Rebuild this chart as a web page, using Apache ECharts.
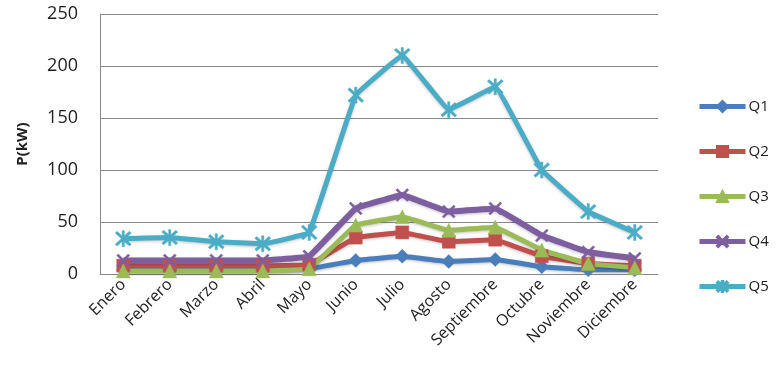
<!DOCTYPE html>
<html>
<head>
<meta charset="utf-8">
<script src="https://cdn.jsdelivr.net/npm/echarts@6/dist/echarts.min.js"></script>
<style>
  html, body { margin: 0; padding: 0; background: #fff; }
  #chart { width: 777px; height: 379px; }
</style>
</head>
<body>
<div id="chart"></div>
<script>
// Monthly power demand per quality tier
const months = ['Enero', 'Febrero', 'Marzo', 'Abril', 'Mayo', 'Junio', 'Julio',
  'Agosto', 'Septiembre', 'Octubre', 'Noviembre', 'Diciembre'];
const q1 = [4, 4, 4, 4, 5, 13, 17, 12, 14, 7, 4, 4];
const q2 = [8, 8, 8, 8, 9, 35, 40, 31, 33, 17, 10, 8];
const q3 = [3, 3, 3, 3, 5, 47, 55, 42, 45, 23, 10, 6];
const q4 = [13, 13, 13, 13, 17, 63, 76, 60, 63, 37, 21, 15];
const q5 = [34, 35, 31, 29, 40, 172, 210, 158, 180, 100, 60, 40];
const yTicks = [0, 50, 100, 150, 200, 250];

const FONT = 'Open Sans';
const crossPath = 'path://M0,1.2L1.2,0L5,3.8L8.8,0L10,1.2L6.2,5L10,8.8L8.8,10L5,6.2L1.2,10L0,8.8L3.8,5Z';
const starPath = 'path://M0,1.2L1.2,0L5,3.8L8.8,0L10,1.2L6.2,5L10,8.8L8.8,10L5,6.2L1.2,10L0,8.8L3.8,5Z' +
  'M4.3,-0.5L5.7,-0.5L5.7,10.5L4.3,10.5Z';

function line(name, data, color, symbol, size, width) {
  return {
    name, type: 'line', data, smooth: 0.05,
    symbol, symbolSize: size,
    lineStyle: { color, width: width || 5, shadowColor: 'rgba(0,0,0,0.25)', shadowBlur: 3, shadowOffsetY: 1 },
    itemStyle: { color, borderColor: color, borderWidth: 0.5 },
    emphasis: { disabled: true }
  };
}

const chart = echarts.init(document.getElementById('chart'));
chart.setOption({
  animation: false,
  grid: { left: 100, right: 119, top: 14, bottom: 105 },
  xAxis: {
    type: 'category', data: months, boundaryGap: true,
    axisLine: { lineStyle: { color: '#888', width: 1 } },
    axisTick: { show: false },
    axisLabel: { rotate: 45, color: '#222', fontFamily: FONT, fontSize: 16, margin: 8, interval: 0 }
  },
  yAxis: {
    type: 'value', min: 0, max: 250, interval: 50,
    name: 'P(kW)', nameLocation: 'middle', nameGap: 70, nameRotate: 90,
    nameTextStyle: { fontFamily: FONT, fontSize: 15, fontWeight: 'bold', color: '#222' },
    axisLine: { show: true, lineStyle: { color: '#888', width: 1 } },
    axisTick: { show: false },
    splitLine: { lineStyle: { color: '#888', width: 1 } },
    axisLabel: {
      color: '#222', fontFamily: FONT, fontSize: 18, margin: 22,
      formatter: v => yTicks.includes(v) ? String(v) : ''
    }
  },
  legend: {
    orient: 'vertical', left: 692, top: 94, itemGap: 30,
    itemWidth: 46, itemHeight: 14,
    lineStyle: { width: 5 },
    textStyle: { fontFamily: FONT, fontSize: 15, color: '#222', padding: [0, 0, 0, -2] },
    data: ['Q1', 'Q2', 'Q3', 'Q4', 'Q5']
  },
  series: [
    line('Q1', q1, '#4A7EBB', 'diamond', 14),
    line('Q2', q2, '#C0504D', 'rect', 13),
    line('Q3', q3, '#9BBB59', 'triangle', 14),
    line('Q4', q4, '#7D5FA0', crossPath, 13, 6),
    line('Q5', q5, '#4BACC6', starPath, 16)
  ]
});
</script>
</body>
</html>
